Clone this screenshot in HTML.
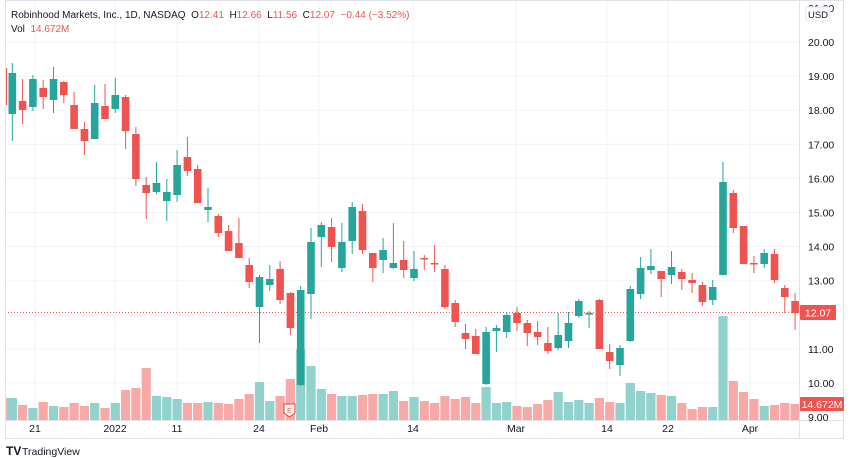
<!DOCTYPE html>
<html><head><meta charset="utf-8"><style>
html,body{margin:0;padding:0;background:#fff;width:850px;height:458px;overflow:hidden}
svg{display:block;font-family:"Liberation Sans",sans-serif}
.pre{white-space:pre}
</style></head><body>
<svg id="c" width="850" height="458" xmlns="http://www.w3.org/2000/svg">
<rect x="0" y="0" width="850" height="458" fill="#fff"/>
<g id="grid" stroke="#f0f3fa" stroke-width="1"></g>
<g id="vol"></g>
<line x1="5" y1="312.5" x2="799" y2="312.5" stroke="#ef5350" stroke-dasharray="1,2" stroke-width="1"/>
<g id="cand"></g>
<rect x="5.5" y="0.5" width="838" height="438" fill="none" stroke="#e0e3eb"/>
<line x1="799.5" y1="0" x2="799.5" y2="438" stroke="#e0e3eb"/>
<line x1="5" y1="420.5" x2="844" y2="420.5" stroke="#e0e3eb"/>
<g id="ylab" font-size="10.5" fill="#131722"></g>
<g id="xlab" font-size="10.5" fill="#131722" text-anchor="middle"></g>
<rect x="806" y="7" width="24" height="14" rx="2" fill="#fff" stroke="#e0e3eb"/>
<text x="818" y="18" font-size="9.5" fill="#131722" text-anchor="middle">USD</text>
<rect x="800" y="305" width="36" height="15" rx="1" fill="#ef5350"/>
<text x="818" y="316.5" font-size="10.5" fill="#fff" text-anchor="middle">12.07</text>
<rect x="800" y="397" width="44" height="14" rx="1" fill="#ef5350"/>
<text x="822" y="408" font-size="10.5" fill="#fff" text-anchor="middle">14.672M</text>
<text class="pre" x="11" y="18" font-size="10" fill="#131722">Robinhood Markets, Inc., 1D, NASDAQ  O<tspan fill="#ef5350">12.41</tspan>  H<tspan fill="#ef5350">12.66</tspan>  L<tspan fill="#ef5350">11.56</tspan>  C<tspan fill="#ef5350">12.07</tspan>  <tspan fill="#ef5350">−0.44 (−3.52%)</tspan></text>
<text class="pre" x="11" y="32" font-size="10" fill="#131722">Vol  <tspan fill="#ef5350">14.672M</tspan></text>
<path d="M284 404 h11 v9 l-5.5 4 l-5.5 -4 z" fill="#fff" stroke="#ef5350" stroke-width="1.2"/>
<text x="289.5" y="413" font-size="7.5" fill="#ef5350" text-anchor="middle">E</text>
<text x="6" y="455" font-size="12" font-weight="bold" fill="#131722">TV</text>
<text x="22" y="455" font-size="10.5" fill="#131722">TradingView</text>
</svg>
<script>
var NS="http://www.w3.org/2000/svg";
function el(p,t,a){var e=document.createElementNS(NS,t);for(var k in a)e.setAttribute(k,a[k]);p.appendChild(e);return e;}
var grid=document.getElementById('grid'),yl=document.getElementById('ylab'),xl=document.getElementById('xlab');
for(var p=9;p<=21;p++){var y=383-(p-10)*34.1;if(p<21&&p>9)el(grid,'line',{x1:5,x2:799,y1:y,y2:y});
var t=el(yl,'text',{x:808,y:y+4});t.textContent=p.toFixed(2);}
var xs=[[35,'21'],[115,'2022'],[177,'11'],[259,'24'],[319,'Feb'],[413,'14'],[516,'Mar'],[607,'14'],[668,'22'],[750,'Apr']];
xs.forEach(function(d){el(grid,'line',{x1:d[0],x2:d[0],y1:0,y2:420});var t=el(xl,'text',{x:d[0],y:432});t.textContent=d[1];});
var U='#26a69a',D='#ef5350';
var c=[[73,114,63,141,U],[101,110,79,124,D],[79,107,75,111,U],[88,97,80,109,D],[79,100,67,113,U],[82,95,81,103,D],[105,129,92,129,D],[129,141,122,155,D],[103,139,85,139,U],[106,119,84,119,D],[95,109,78,113,U],[97,131,95,149,D],[134,179,127,186,D],[185,193,177,219,D],[183,192,162,194,U],[192,201,179,221,U],[165,195,150,202,U],[157,171,137,176,D],[169,203,165,203,D],[207,210,188,222,U],[216,233,214,237,D],[231,251,225,251,D],[243,258,218,258,D],[265,282,258,288,D],[277,307,275,343,U],[279,285,265,291,U],[269,300,261,304,D],[293,328,292,335,D],[290,385,286,386,U],[242,294,228,319,U],[225,237,222,267,U],[227,247,218,262,D],[242,268,223,272,U],[207,241,202,254,U],[211,250,204,254,D],[253,268,253,282,D],[250,260,238,273,U],[263,268,223,269,U],[260,270,241,278,D],[269,278,251,281,U],[258,259,255,270,D],[263,264,245,272,D],[269,307,265,309,D],[303,322,300,327,D],[333,339,324,349,D],[336,354,329,354,D],[332,384,327,385,U],[328,331,325,352,U],[315,332,312,338,U],[313,323,307,331,D],[323,333,320,346,D],[332,337,321,345,D],[343,351,327,354,D],[335,348,313,350,U],[323,341,312,348,U],[301,316,299,318,U],[313,314,311,328,U],[300,349,299,349,D],[352,361,344,369,D],[348,365,345,376,U],[289,341,286,342,U],[268,294,257,299,U],[266,270,249,274,U],[271,279,271,297,D],[267,275,251,284,U],[272,279,269,290,D],[280,283,273,293,D],[285,302,282,306,D],[287,300,280,305,U],[182,275,162,275,U],[193,228,190,233,D],[226,264,226,264,D],[263,264,256,273,D],[253,264,249,268,U],[254,280,249,283,D],[288,297,285,313,D],[301,313,293,330,D]];
var v=[398,405,408,402,406,407,403,406,403,408,403,390,388,368,396,397,399,403,403,402,403,404,399,394,382,401,396,379,349,366,389,394,396,396,395,394,394,391,401,397,401,403,396,399,397,403,387,403,402,406,407,404,400,392,402,400,403,398,402,403,383,391,393,395,396,403,409,407,407,316,381,392,399,406,405,403,404];
var cg=document.getElementById('cand'),vg=document.getElementById('vol');
el(vg,'rect',{x:5,y:398,width:3,height:22,fill:'#f7a9a7'});
el(cg,'line',{x1:6.5,x2:6.5,y1:68,y2:105,stroke:D});
c.forEach(function(d,i){var x=12.3+i*10.3;var col=d[4];
var vc=col==U?'#92d2cc':'#f7a9a7';
el(vg,'rect',{x:x-4.6,y:v[i],width:9.2,height:420-v[i],fill:vc});
el(cg,'line',{x1:x,x2:x,y1:d[2],y2:d[3],stroke:col,'stroke-width':1});
var h=Math.max(1.5,d[1]-d[0]);
el(cg,'rect',{x:x-3.8,y:d[0],width:7.6,height:h,fill:col});});
</script>
</body></html>
